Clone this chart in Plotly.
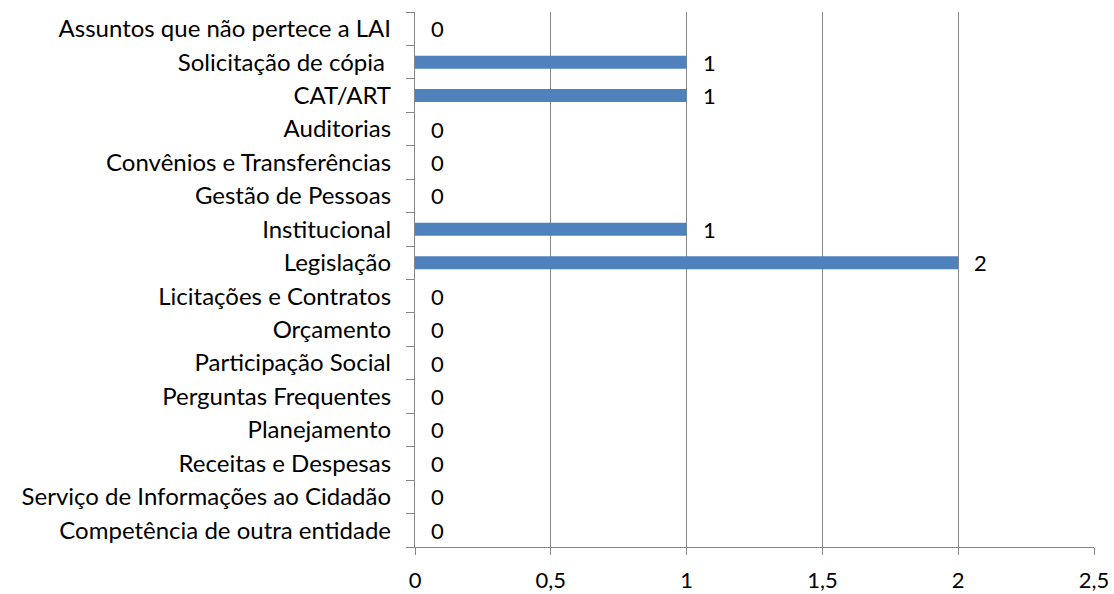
import plotly.graph_objects as go

categories = [
    "Competência de outra entidade",
    "Serviço de Informações ao Cidadão",
    "Receitas e Despesas",
    "Planejamento",
    "Perguntas Frequentes",
    "Participação Social",
    "Orçamento",
    "Licitações e Contratos",
    "Legislação",
    "Institucional",
    "Gestão de Pessoas",
    "Convênios e Transferências",
    "Auditorias",
    "CAT/ART",
    "Solicitação de cópia ",
    "Assuntos que não pertece a LAI",
]
values = [0, 0, 0, 0, 0, 0, 0, 0, 2, 1, 0, 0, 0, 1, 1, 0]
x_ticks = [0, 0.5, 1, 1.5, 2, 2.5]
x_tick_labels = ["0", "0,5", "1", "1,5", "2", "2,5"]

FONT = "Lato"
FS = 24
GRID = "#868686"

fig = go.Figure()
fig.add_trace(go.Bar(
    y=categories, x=values, orientation="h",
    marker=dict(color="#4F81BD", line=dict(width=0)),
    width=0.39,
    hoverinfo="x+y",
))

for c, v in zip(categories, values):
    fig.add_annotation(
        x=v, y=c, text=str(v), showarrow=False,
        xanchor="left", yanchor="middle", xshift=14,
        font=dict(family=FONT, size=FS - 2, color="black"),
    )

fig.update_layout(
    width=1114, height=594,
    margin=dict(l=415, r=20, t=12, b=47, autoexpand=False),
    plot_bgcolor="white", paper_bgcolor="white",
    showlegend=False,
    separators=", ",
    font=dict(family=FONT, size=FS, color="black"),
)
fig.update_xaxes(
    range=[0, 2.5], tickvals=x_ticks, ticktext=x_tick_labels,
    showgrid=True, gridcolor=GRID, gridwidth=1.3,
    showline=True, linecolor=GRID, linewidth=1.3,
    ticks="outside", ticklen=7, tickcolor=GRID, tickwidth=1.3,
    zeroline=False, ticklabelstandoff=6,
    tickfont=dict(family=FONT, size=FS - 2, color="black"),
)
fig.update_yaxes(
    type="category", categoryorder="array", categoryarray=categories,
    range=[-0.5, len(categories) - 0.5],
    showline=True, linecolor=GRID, linewidth=1.3,
    ticks="outside", ticklen=8, tickcolor=GRID, tickwidth=1.3,
    tickson="boundaries", showgrid=False,
    ticklabelstandoff=18,
    tickfont=dict(family=FONT, size=FS, color="black"),
)

fig.write_html(
    "out.html",
    config={"displayModeBar": False},
    post_script="document.body.style.margin='0';document.body.style.overflow='hidden';",
)
